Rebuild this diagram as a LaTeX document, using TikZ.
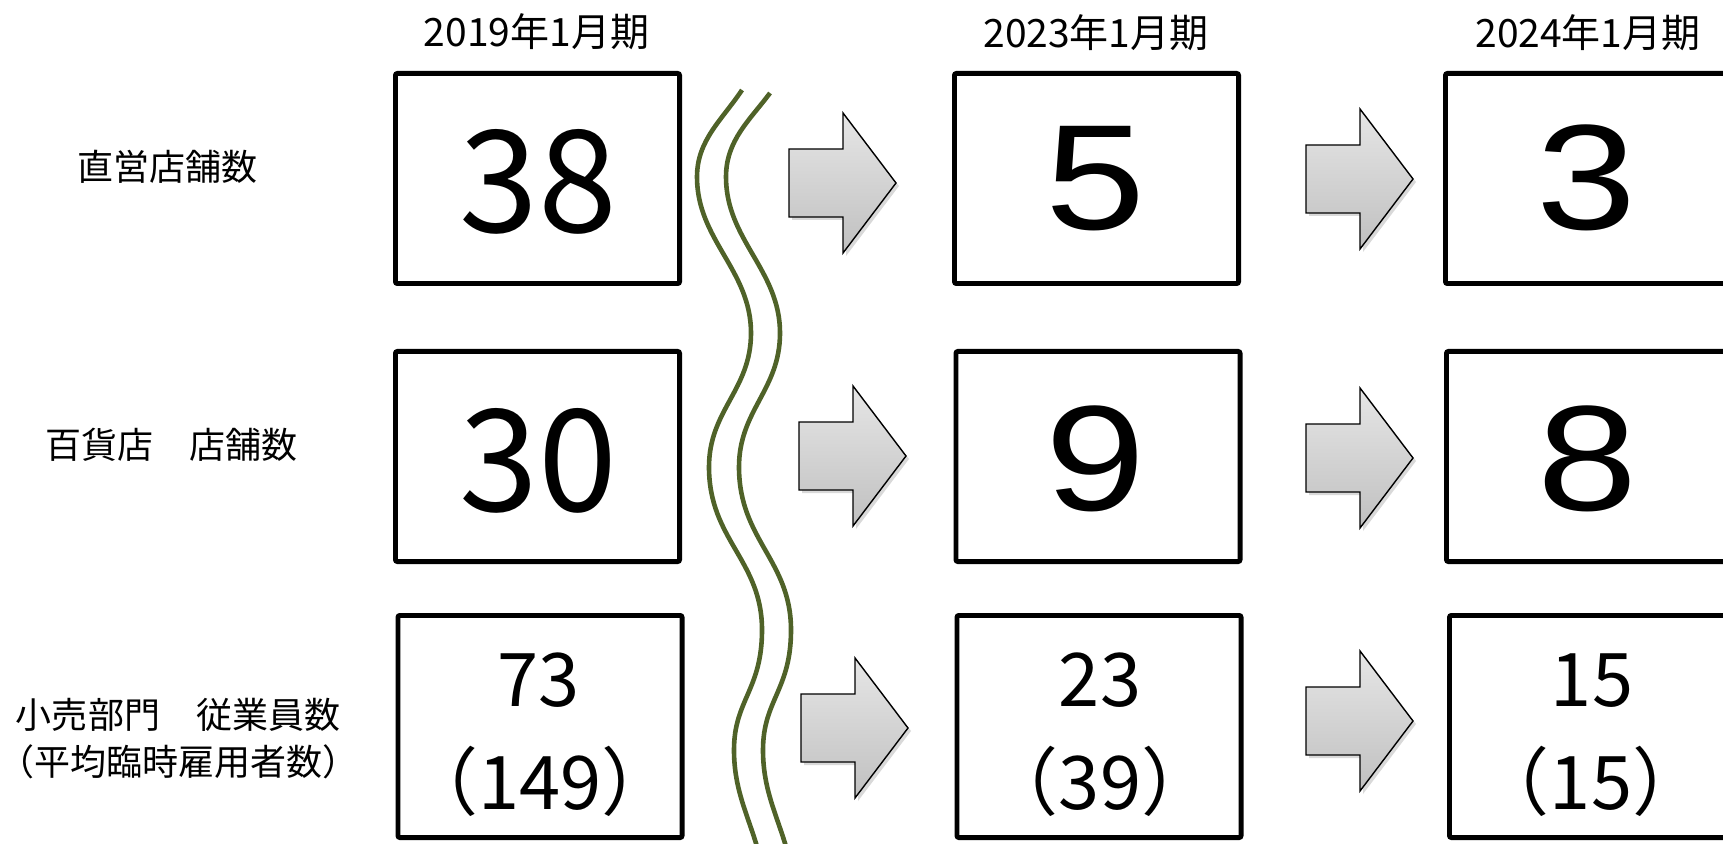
\documentclass[tikz,border=0pt]{standalone}
\usepackage{fontspec}
\setmainfont{Noto Sans CJK JP}
\newfontfamily\bigdigit[FakeStretch=1.2]{Liberation Sans}
\usetikzlibrary{shadows}
\definecolor{wave}{RGB}{79,98,40}
\definecolor{arrtop}{RGB}{230,230,230}
\definecolor{arrbot}{RGB}{192,192,192}
\tikzset{
  box/.style={draw, line width=2.4pt, rounded corners=1pt, minimum width=142.1pt, minimum height=105.1pt, inner sep=0pt},
  tallbox/.style={box, minimum height=111.1pt},
  lbl/.style={inner sep=0pt, font=\fontsize{18}{23.5}\selectfont},
  hdr/.style={inner sep=0pt, font=\fontsize{19.5}{23}\selectfont},
  bignum/.style={anchor=base, inner sep=0pt, font=\fontsize{71}{80}\selectfont},
  onedigit/.style={anchor=base, inner sep=0pt, font=\bigdigit\fontsize{75}{80}\selectfont},
  smallnum/.style={anchor=base, inner sep=0pt, font=\fontsize{37}{44}\selectfont},
  wavy/.style={draw=wave, line width=2.3pt},
  arrowbody/.style={draw=black, line width=0.7pt, top color=arrtop, bottom color=arrbot,
    drop shadow={opacity=0.3, shadow xshift=1.5pt, shadow yshift=-1.5pt}},
  blockarrow/.pic={\path[arrowbody] (0,-34) -- (54,-34) -- (54,-70) -- (107,0) -- (54,70) -- (54,34) -- (0,34) -- cycle;}
}
\begin{document}
\begin{tikzpicture}[x=0.5pt, y=-0.5pt]
\path[use as bounding box] (0,0) rectangle (1723,844);
\clip (0,0) rectangle (1723,844);

% headers
\node[hdr] (h1) at (536.5,32) {2019年1月期};
\node[hdr] (h2) at (1096,33) {2023年1月期};
\node[hdr] (h3) at (1588,33) {2024年1月期};

% row labels
\node[lbl] (l1) at (167.5,166.5) {直営店舗数};
\node[lbl] (l2) at (171,445) {百貨店　店舗数};
\node[lbl, align=center] (l3) at (178,738.5) {小売部門　従業員数\\（平均臨時雇用者数）};

% boxes
\node[box] (b11) at (537.5,178.5) {};
\node[box] (b12) at (1096.5,178.5) {};
\node[box] (b13) at (1587.5,178.5) {};
\node[box] (b21) at (537.5,456.5) {};
\node[box] (b22) at (1098,456.5) {};
\node[box] (b23) at (1588.5,456.5) {};
\node[tallbox] (b31) at (540,726.5) {};
\node[tallbox] (b32) at (1099,726.5) {};
\node[tallbox] (b33) at (1591.5,726.5) {};

% numbers
\node[bignum] (n11) at (538,233) {38};
\node[bignum] (n21) at (538,511) {30};
\node[onedigit] (n12) at (1096,230) {5};
\node[onedigit] (n13) at (1587,230) {3};
\node[onedigit] (n22) at (1096,510) {9};
\node[onedigit] (n23) at (1588,510) {8};
\node[smallnum] (n31a) at (538.5,706) {73};
\node[smallnum] (n31b) at (540,809) {（149）};
\node[smallnum] (n32a) at (1100,706) {23};
\node[smallnum] (n32b) at (1100,809) {（39）};
\node[smallnum] (n33a) at (1592,706) {15};
\node[smallnum] (n33b) at (1591,809) {（15）};

% wavy break lines
\draw[wavy] (742,90) .. controls (722,120) and (697,140) .. (697,177)
  .. controls (697,240) and (751,270) .. (751,333)
  .. controls (751,390) and (709,410) .. (709,467)
  .. controls (709,540) and (762,560) .. (762,630)
  .. controls (762,690) and (734,700) .. (734,750)
  .. controls (734,790) and (748,815) .. (758,850);
\draw[wavy] (770,93) .. controls (750,120) and (726,140) .. (726,177)
  .. controls (726,240) and (780,270) .. (780,333)
  .. controls (780,390) and (739,410) .. (739,467)
  .. controls (739,540) and (791,560) .. (791,630)
  .. controls (791,690) and (763,700) .. (763,750)
  .. controls (763,790) and (777,815) .. (787,850);

% block arrows
\pic at (789,183) {blockarrow};
\pic at (799,456) {blockarrow};
\pic at (801,728) {blockarrow};
\pic at (1306,179) {blockarrow};
\pic at (1306,458) {blockarrow};
\pic at (1306,721) {blockarrow};
\end{tikzpicture}
\end{document}
